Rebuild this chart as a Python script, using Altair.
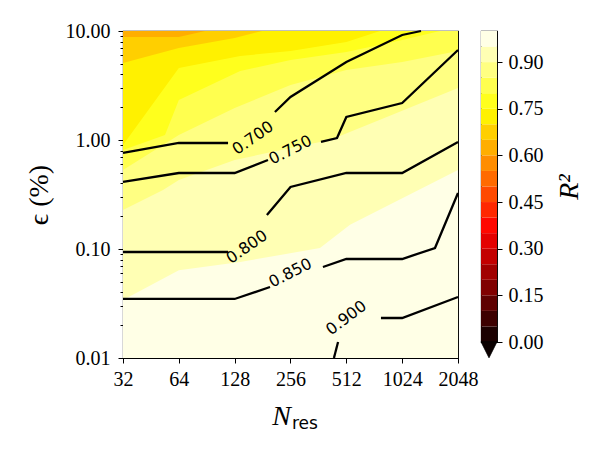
import altair as alt
import pandas as pd

# ---- axis ticks ----
N_TICKS = [32, 64, 128, 256, 512, 1024, 2048]
EPS_MAJOR = [0.01, 0.1, 1, 10]
EPS_MINOR = [0.02, 0.03, 0.04, 0.05, 0.06, 0.07, 0.08, 0.09,
             0.2, 0.3, 0.4, 0.5, 0.6, 0.7, 0.8, 0.9,
             2, 3, 4, 5, 6, 7, 8, 9]
CBAR_TICKS = [0.0, 0.15, 0.30, 0.45, 0.60, 0.75, 0.90]

# ---- colour bands of the R^2 scale (hot colormap, 0.05 steps) ----
BAND_LO = [0.00, 0.05, 0.10, 0.15, 0.20, 0.25, 0.30, 0.35, 0.40, 0.45,
           0.50, 0.55, 0.60, 0.65, 0.70, 0.75, 0.80, 0.85, 0.90, 0.95]
BAND_HI = [0.05, 0.10, 0.15, 0.20, 0.25, 0.30, 0.35, 0.40, 0.45, 0.50,
           0.55, 0.60, 0.65, 0.70, 0.75, 0.80, 0.85, 0.90, 0.95, 1.00]
BAND_COLORS = ["#1b0000", "#3d0000", "#5e0000", "#800000", "#a10000",
               "#c30000", "#e40000", "#ff0700", "#ff2800", "#ff4a00",
               "#ff6b00", "#ff8d00", "#ffae00", "#ffcf00", "#fff100",
               "#ffff1d", "#ffff4f", "#ffff82", "#ffffb4", "#ffffe6"]
UNDER_COLOR = "#0b0000"

# ---- filled R^2 regions: iso-lines of the field (N_res, eps) ----
FILL_100_N = [32, 2048]
FILL_100_EPS = [0.01, 0.01]
FILL_095_N = [32, 64, 137, 369, 536, 2048]
FILL_095_EPS = [0.034, 0.064, 0.076, 0.102, 0.167, 0.531]
FILL_090_N = [32, 52.6, 64, 128, 256, 418, 778, 2048]
FILL_090_EPS = [0.228, 0.348, 0.43, 0.655, 0.845, 1.0, 1.53, 3.0]
FILL_085_N = [32, 64, 128, 256, 512, 1024, 2048]
FILL_085_EPS = [0.53, 1.11, 1.97, 3.19, 4.39, 5.19, 6.55]
FILL_080_N = [32, 53.9, 64, 137, 256, 512, 1024, 1638]
FILL_080_EPS = [0.81, 1.11, 2.33, 4.30, 5.42, 6.42, 8.27, 10]
FILL_075_N = [32, 64, 137, 256, 512, 778]
FILL_075_EPS = [0.90, 4.58, 5.90, 6.55, 7.92, 10]
FILL_070_N = [32, 64, 128, 180]
FILL_070_EPS = [5.08, 6.98, 8.62, 10]
FILL_065_N = [32, 64, 88.6]
FILL_065_EPS = [8.81, 8.81, 10]

FILL_LAYERS = [
    (FILL_100_N, FILL_100_EPS, "#ffffe6"),
    (FILL_095_N, FILL_095_EPS, "#ffffb4"),
    (FILL_090_N, FILL_090_EPS, "#ffff82"),
    (FILL_085_N, FILL_085_EPS, "#ffff4f"),
    (FILL_080_N, FILL_080_EPS, "#ffff1d"),
    (FILL_075_N, FILL_075_EPS, "#fff100"),
    (FILL_070_N, FILL_070_EPS, "#ffcf00"),
    (FILL_065_N, FILL_065_EPS, "#ffae00"),
]

# ---- contour lines (broken where the inline labels sit) ----
LINE_SEGMENTS = {
    "0.700a": ([32, 64, 117.9], [0.760, 0.939, 0.939]),
    "0.700b": ([211, 256, 512, 1024, 1294], [1.806, 2.48, 5.19, 9.19, 10]),
    "0.750a": ([32, 64, 128, 193.6], [0.412, 0.498, 0.498, 0.655]),
    "0.750b": ([373.8, 456, 512, 1024, 2048], [0.959, 1.043, 1.626, 2.185, 6.69]),
    "0.800a": ([32, 117.9], [0.0939, 0.0939]),
    "0.800b": ([191, 256, 512, 1024, 2048], [0.205, 0.371, 0.498, 0.498, 0.959]),
    "0.850a": ([32, 128, 198.5], [0.0348, 0.0348, 0.0448]),
    "0.850b": ([383, 512, 1024, 1539, 2048], [0.0684, 0.0810, 0.0810, 0.1021, 0.3265]),
    "0.900a": ([439, 462], [0.01, 0.01403]),
    "0.900b": ([787, 1024, 2048], [0.02328, 0.02328, 0.0363]),
}

LABEL_TEXT = ["0.700", "0.750", "0.800", "0.850", "0.900"]
LABEL_N = [160.7, 256, 149, 256, 512]
LABEL_EPS = [1.043, 0.810, 0.1043, 0.0603, 0.0233]
LABEL_ANGLE = [325, 333, 325, 333, 323]

SERIF = "Liberation Serif"
SANS = "DejaVu Sans"

x_scale = alt.Scale(type="log", base=2, domain=[32, 2048], nice=False)
y_scale = alt.Scale(type="log", domain=[0.01, 10], nice=False)

MAJOR_TEST = "abs(log(datum.value) / LN10 - round(log(datum.value) / LN10)) < 0.001"

x_axis = alt.Axis(
    values=N_TICKS, format="d", title=None, domain=False, grid=False,
    tickSize=5, tickColor="black", tickWidth=1,
    labelFont=SERIF, labelFontSize=20, labelColor="black", labelPadding=6,
    labelOverlap=False, labelFlush=False,
)
y_axis = alt.Axis(
    values=EPS_MAJOR + EPS_MINOR,
    labelExpr=f"({MAJOR_TEST}) ? format(datum.value, '.2f') : ''",
    tickSize={"condition": {"test": MAJOR_TEST, "value": 5}, "value": 3},
    title="\u03f5 (%)", titleFont=SERIF, titleFontSize=28, titleFontWeight="normal",
    titleColor="black", titlePadding=12,
    domain=False, grid=False, tickColor="black", tickWidth=1,
    labelFont=SERIF, labelFontSize=20, labelColor="black", labelPadding=8,
    labelOverlap=False, labelFlush=False,
)


def xy():
    return dict(
        x=alt.X("N:Q", scale=x_scale, axis=x_axis),
        y=alt.Y("eps:Q", scale=y_scale, axis=y_axis),
    )


layers = []
for n_vals, e_vals, col in FILL_LAYERS:
    df = pd.DataFrame({"N": n_vals, "eps": e_vals})
    layers.append(
        alt.Chart(df).mark_area(color=col, opacity=1, interpolate="linear")
        .encode(**xy(), y2=alt.datum(10))
    )

rows = []
for seg, (n_vals, e_vals) in LINE_SEGMENTS.items():
    for i, (n, e) in enumerate(zip(n_vals, e_vals)):
        rows.append({"seg": seg, "N": n, "eps": e, "i": i})
lines_df = pd.DataFrame(rows)
layers.append(
    alt.Chart(lines_df).mark_line(color="black", strokeWidth=2.3)
    .encode(**xy(), detail="seg:N", order="i:Q")
)

labels_df = pd.DataFrame({"t": LABEL_TEXT, "N": LABEL_N, "eps": LABEL_EPS, "ang": LABEL_ANGLE})
layers.append(
    alt.Chart(labels_df).mark_text(font=SANS, fontSize=16, color="black")
    .encode(**xy(), text="t:N", angle=alt.Angle("ang:Q", scale=None))
)

one = pd.DataFrame({"a": [0]})
layers.append(
    alt.Chart(one).mark_text(text="N", font=SERIF, fontSize=28, fontStyle="italic",
                             align="right", baseline="alphabetic", color="black")
    .encode(x=alt.value(168), y=alt.value(394))
)
layers.append(
    alt.Chart(one).mark_text(text="res", font=SANS, fontSize=17,
                             align="left", baseline="alphabetic", color="black")
    .encode(x=alt.value(169), y=alt.value(398))
)

main = alt.layer(*layers).properties(width=335, height=327)

cb_df = pd.DataFrame({"lo": BAND_LO, "hi": BAND_HI, "color": BAND_COLORS})
cb_scale = alt.Scale(domain=[0, 1], nice=False, zero=False)
cb_axis = alt.Axis(
    orient="right", values=CBAR_TICKS, format=".2f", domain=False, grid=False,
    tickSize=5, tickColor="black", tickWidth=1,
    labelFont=SERIF, labelFontSize=20, labelColor="black", labelPadding=6,
    labelOverlap=False, labelFlush=False,
    title="R\u00b2", titleFont=SERIF, titleFontSize=28, titleFontStyle="italic",
    titleFontWeight="normal", titleColor="black", titleAngle=270,
    titleBaseline="top", titlePadding=12,
)
cbar_rect = alt.Chart(cb_df).mark_rect().encode(
    x=alt.value(0), x2=alt.value(16),
    y=alt.Y("lo:Q", scale=cb_scale, axis=cb_axis),
    y2="hi:Q",
    color=alt.Color("color:N", scale=None),
)
tri = alt.Chart(pd.DataFrame({"v": [-0.025]})).mark_point(
    shape="M-1,-1L1,-1L0,1Z", filled=True, size=256, fill=UNDER_COLOR,
    opacity=1, stroke="black", strokeWidth=0.8,
).encode(x=alt.value(8), y=alt.Y("v:Q", scale=cb_scale, axis=cb_axis))
cbar = alt.layer(cbar_rect, tri).properties(width=16, height=311)

chart = (
    alt.hconcat(main, cbar, spacing=23, bounds="flush")
    .properties(padding={"left": 24, "top": 20, "right": 5, "bottom": 5}, background="white")
    .configure_view(stroke="black", strokeWidth=1.1)
)

chart.save("out.html", embed_options={"renderer": "svg", "actions": False})
